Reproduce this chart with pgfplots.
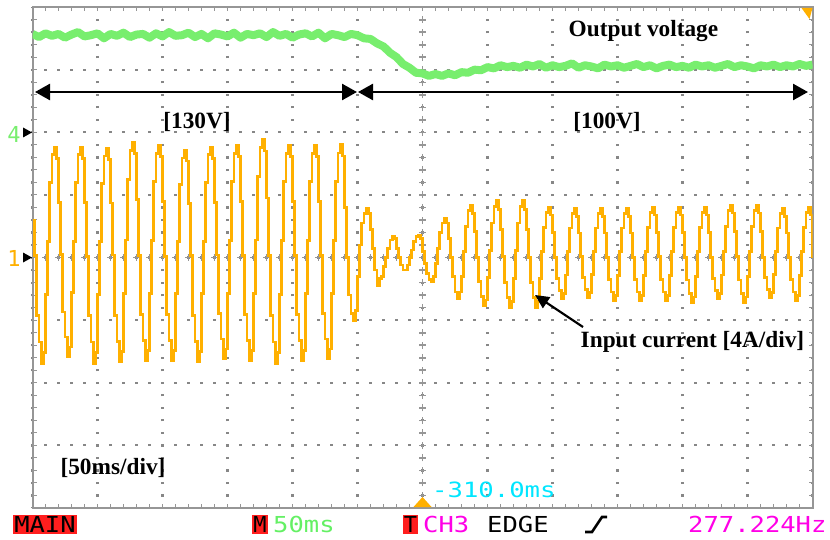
\documentclass[border=0pt]{standalone}
\usepackage{pgfplots}
\pgfplotsset{compat=1.18}
\usepackage{graphicx}
\usepackage{fontspec}
\setmainfont{Liberation Serif}
\newfontfamily\scope{DejaVu Sans Mono}
\usetikzlibrary{arrows.meta}
\definecolor{gridgray}{RGB}{150,150,150}
\definecolor{dotgray}{RGB}{135,135,135}
\definecolor{trgreen}{RGB}{120,238,110}
\definecolor{trorange}{RGB}{255,176,0}
\definecolor{scopered}{RGB}{255,30,30}
\definecolor{scopemag}{RGB}{255,0,230}
\definecolor{scopecyan}{RGB}{0,230,255}
\definecolor{scopegreen}{RGB}{100,240,100}
\newcommand{\st}[2][1.16]{\scalebox{#1}[1]{\fontsize{22}{22}\selectfont\scope #2}}
\newcommand{\ann}{\fontsize{23.3}{26}\selectfont\bfseries}
\begin{document}
\begin{tikzpicture}[x=1pt,y=1pt]
\path[use as bounding box] (-32.5,-31) rectangle (797.5,508);
\begin{axis}[
 at={(0,0)}, anchor=south west,
 scale only axis, width=780pt, height=501pt,
 xmin=0, xmax=360, ymin=-4, ymax=4,
 xtick={0,30,...,360}, ytick={-4,-3,...,4},
 minor x tick num=4, minor y tick num=4,
 xticklabels={}, yticklabels={},
 tick align=inside, tick pos=both,
 major tick length=4pt, minor tick length=4pt,
 tick style={draw=gridgray, line width=1pt},
 grid=major,
 x grid style={draw=dotgray, line width=2.2pt, dash pattern=on 2.2pt off 10.32pt, dash phase=1.1pt},
 y grid style={draw=dotgray, line width=2.2pt, dash pattern=on 2.2pt off 10.8pt, dash phase=1.1pt},
 axis line style={draw=gridgray, line width=2pt},
]
% centre crosses
\draw[gridgray, line width=1.6pt, dash pattern=on 7pt off 6pt, dash phase=3.5pt] (axis cs:0,0) -- (axis cs:360,0);
\draw[gridgray, line width=7pt, dash pattern=on 1.6pt off 11.4pt, dash phase=0.8pt] (axis cs:0,0) -- (axis cs:360,0);
\draw[gridgray, line width=1.6pt, dash pattern=on 7pt off 5.52pt, dash phase=3.5pt] (axis cs:180,-4) -- (axis cs:180,4);
\draw[gridgray, line width=7pt, dash pattern=on 1.6pt off 10.92pt, dash phase=0.8pt] (axis cs:180,-4) -- (axis cs:180,4);
% output voltage
\addplot[trgreen, line width=8pt, line join=round] coordinates {
(0,3.57)(3,3.52)(6,3.58)(9,3.54)(12,3.57)(15,3.51)(18,3.56)(21,3.6)(24,3.53)(27,3.55)(30,3.58)(33,3.5)(36,3.57)(39,3.54)(42,3.59)(45,3.52)(48,3.56)(51,3.57)(54,3.51)(57,3.58)(60,3.53)(63,3.6)(66,3.54)(69,3.55)(72,3.59)(75,3.52)(78,3.57)(81,3.5)(84,3.58)(87,3.56)(90,3.53)(93,3.59)(96,3.51)(99,3.57)(102,3.55)(105,3.58)(108,3.52)(111,3.6)(114,3.54)(117,3.57)(120,3.51)(123,3.56)(126,3.58)(129,3.53)(132,3.59)(135,3.5)(138,3.57)(141,3.55)(144,3.52)(147,3.57)(150,3.55)
(153,3.5)(156,3.49)(159,3.42)(162,3.37)(165,3.27)(168,3.2)(171,3.09)(174,3.03)(177,2.95)(180,2.94)(183,2.9)(186,2.93)(189,2.9)(192,2.94)(195,2.91)(198,2.96)(201,2.95)(204,3.0)(207,2.99)(210,3.04)(213,3.02)(216,3.07)(219,3.04)(222,3.06)
(225,3.03)(228,3.08)(231,3.05)(234,3.09)(237,3.03)(240,3.07)(243,3.04)(246,3.06)(249,3.1)(252,3.03)(255,3.07)(258,3.05)(261,3.02)(264,3.08)(267,3.05)(270,3.07)(273,3.03)(276,3.06)(279,3.09)(282,3.04)(285,3.07)(288,3.02)(291,3.06)(294,3.08)(297,3.04)(300,3.06)(303,3.03)(306,3.08)(309,3.05)(312,3.07)(315,3.03)(318,3.06)(321,3.09)(324,3.04)(327,3.07)(330,3.05)(333,3.02)(336,3.07)(339,3.05)(342,3.08)(345,3.04)(348,3.07)(351,3.05)(354,3.09)(357,3.06)(360,3.08)
};
% input current
\addplot[trorange, line width=2.8pt, const plot] coordinates {
(0,0.6)(1,0.03)(2,-0.93)(3,-1.35)(4,-1.69)(5,-1.52)(6,-0.59)(7,0.26)(8,1.2)(9,1.64)(10,1.76)(11,1.58)
(12,0.88)(13,0.05)(14,-0.87)(15,-1.27)(16,-1.59)(17,-1.43)(18,-0.56)(19,0.26)(20,1.2)(21,1.64)(22,1.76)(23,1.58)
(24,0.88)(25,0.02)(26,-0.93)(27,-1.35)(28,-1.69)(29,-1.52)(30,-0.59)(31,0.26)(32,1.18)(33,1.62)(34,1.74)(35,1.57)
(36,0.87)(37,0.04)(38,-0.92)(39,-1.34)(40,-1.67)(41,-1.5)(42,-0.58)(43,0.28)(44,1.25)(45,1.71)(46,1.84)(47,1.66)
(48,0.92)(49,0.03)(50,-0.91)(51,-1.32)(52,-1.65)(53,-1.49)(54,-0.58)(55,0.27)(56,1.22)(57,1.66)(58,1.79)(59,1.61)
(60,0.9)(61,0.02)(62,-0.91)(63,-1.32)(64,-1.65)(65,-1.49)(66,-0.58)(67,0.26)(68,1.16)(69,1.59)(70,1.71)(71,1.54)
(72,0.86)(73,0.03)(74,-0.92)(75,-1.34)(76,-1.67)(77,-1.5)(78,-0.58)(79,0.26)(80,1.2)(81,1.64)(82,1.76)(83,1.58)
(84,0.88)(85,0.04)(86,-0.89)(87,-1.3)(88,-1.62)(89,-1.46)(90,-0.57)(91,0.27)(92,1.22)(93,1.66)(94,1.79)(95,1.61)
(96,0.9)(97,0.03)(98,-0.91)(99,-1.32)(100,-1.65)(101,-1.49)(102,-0.58)(103,0.28)(104,1.29)(105,1.76)(106,1.89)(107,1.7)
(108,0.95)(109,0.03)(110,-0.93)(111,-1.35)(112,-1.69)(113,-1.52)(114,-0.59)(115,0.27)(116,1.22)(117,1.66)(118,1.79)(119,1.61)
(120,0.9)(121,0.03)(122,-0.91)(123,-1.32)(124,-1.65)(125,-1.49)(126,-0.58)(127,0.27)(128,1.22)(129,1.66)(130,1.79)(131,1.61)
(132,0.9)(133,0.03)(134,-0.89)(135,-1.3)(136,-1.62)(137,-1.46)(138,-0.57)(139,0.27)(140,1.22)(141,1.67)(142,1.8)(143,1.62)
(144,0.8)(145,0.0)(146,-0.6)(147,-0.9)(148,-1.0)(149,-0.85)(150,-0.3)(151,0.2)(152,0.55)(153,0.7)(154,0.78)(155,0.7)
(156,0.45)(157,0.15)(158,-0.2)(159,-0.45)(160,-0.33)(161,-0.3)(162,-0.15)(163,0.0)(164,0.15)(165,0.28)(166,0.33)(167,0.3)
(168,0.15)(169,0.0)(170,-0.12)(171,-0.2)(172,-0.2)(173,-0.12)(174,0.0)(175,0.12)(176,0.25)(177,0.33)(178,0.36)(179,0.3)
(180,0.1)(181,-0.1)(182,-0.25)(183,-0.35)(184,-0.38)(185,-0.3)(186,-0.1)(187,0.15)(188,0.4)(189,0.55)(190,0.63)(191,0.55)
(192,0.3)(193,0.0)(194,-0.3)(195,-0.55)(196,-0.65)(197,-0.55)(198,-0.3)(199,0.1)(200,0.5)(201,0.75)(202,0.83)(203,0.7)
(204,0.42)(205,0.0)(206,-0.38)(207,-0.62)(208,-0.77)(209,-0.68)(210,-0.32)(211,0.11)(212,0.55)(213,0.82)(214,0.91)(215,0.77)
(216,0.45)(217,0.01)(218,-0.4)(219,-0.64)(220,-0.8)(221,-0.7)(222,-0.34)(223,0.11)(224,0.55)(225,0.82)(226,0.91)(227,0.77)
(228,0.45)(229,0.0)(230,-0.4)(231,-0.64)(232,-0.8)(233,-0.7)(234,-0.34)(235,0.1)(236,0.48)(237,0.72)(238,0.8)(239,0.68)
(240,0.4)(241,0.0)(242,-0.33)(243,-0.53)(244,-0.66)(245,-0.58)(246,-0.28)(247,0.09)(248,0.47)(249,0.7)(250,0.78)(251,0.66)
(252,0.39)(253,0.01)(254,-0.32)(255,-0.51)(256,-0.64)(257,-0.56)(258,-0.27)(259,0.09)(260,0.47)(261,0.7)(262,0.78)(263,0.66)
(264,0.39)(265,0.0)(266,-0.35)(267,-0.55)(268,-0.69)(269,-0.61)(270,-0.29)(271,0.09)(272,0.47)(273,0.7)(274,0.78)(275,0.66)
(276,0.39)(277,0.0)(278,-0.35)(279,-0.55)(280,-0.69)(281,-0.61)(282,-0.29)(283,0.1)(284,0.48)(285,0.72)(286,0.8)(287,0.68)
(288,0.4)(289,0.01)(290,-0.35)(291,-0.55)(292,-0.69)(293,-0.61)(294,-0.29)(295,0.1)(296,0.48)(297,0.72)(298,0.8)(299,0.68)
(300,0.4)(301,0.0)(302,-0.36)(303,-0.58)(304,-0.72)(305,-0.63)(306,-0.3)(307,0.1)(308,0.48)(309,0.72)(310,0.8)(311,0.68)
(312,0.4)(313,0.0)(314,-0.33)(315,-0.53)(316,-0.66)(317,-0.58)(318,-0.28)(319,0.1)(320,0.5)(321,0.75)(322,0.83)(323,0.71)
(324,0.42)(325,0.01)(326,-0.36)(327,-0.58)(328,-0.72)(329,-0.63)(330,-0.3)(331,0.1)(332,0.5)(333,0.75)(334,0.83)(335,0.71)
(336,0.42)(337,0.0)(338,-0.32)(339,-0.51)(340,-0.64)(341,-0.56)(342,-0.27)(343,0.09)(344,0.47)(345,0.7)(346,0.78)(347,0.66)
(348,0.39)(349,0.0)(350,-0.35)(351,-0.55)(352,-0.69)(353,-0.61)(354,-0.29)(355,0.1)(356,0.48)(357,0.72)(358,0.8)(359,0.68)(360,0.0)
};
\end{axis}
% annotations
\draw[line width=2.5pt, {Triangle[length=15pt,width=16pt]}-{Triangle[length=15pt,width=16pt]}] (2.5,416) -- (324.5,416);
\draw[line width=2.5pt, {Triangle[length=15pt,width=16pt]}-{Triangle[length=15pt,width=16pt]}] (325.5,416) -- (775.5,416);
\node[anchor=base, inner sep=0] at (611,471) {\ann Output voltage};
\node[anchor=base, inner sep=0] at (164.5,379) {\ann [130V]};
\node[anchor=base, inner sep=0] at (574.5,379) {\ann [100V]};
\node[anchor=base, inner sep=0] at (660,161) {\ann Input current [4A/div]};
\node[anchor=base, inner sep=0] at (80.5,34) {\ann [50ms/div]};
\draw[line width=2.2pt, -{Triangle[length=14pt,width=13pt]}] (550.5,181) -- (502.5,213);
% channel markers
\node[anchor=center, inner sep=0, text=trgreen] at (-18.5,374) {\st[1]{4}};
\fill[black] (-9.5,380.5) -- (-9.5,370.5) -- (-0.5,375.5) -- cycle;
\node[anchor=center, inner sep=0, text=trorange] at (-18.5,249.5) {\st[1]{1}};
\fill[black] (-9.5,255.5) -- (-9.5,245.5) -- (-0.5,250.5) -- cycle;
% trigger markers
\fill[trorange] (381,1) -- (399,1) -- (390,11) -- cycle;
\fill[trorange] (769,500) -- (780,500) -- (777,489) -- cycle;
\node[anchor=base west, inner sep=0, text=scopecyan] at (399.5,11) {\scalebox{1.22}[1]{\fontsize{21}{21}\selectfont\scope -310.0ms}};
% status bar
\fill[scopered] (-19.5,-7) rectangle (44.5,-25.5);
\node[anchor=base, inner sep=0] at (12.5,-24.5) {\st{MAIN}};
\fill[scopered] (219.5,-7) rectangle (235.5,-25.5);
\node[anchor=base, inner sep=0] at (227.5,-24.5) {\st[1]{M}};
\node[anchor=base west, inner sep=0, text=scopegreen] at (240.5,-24.5) {\st{50ms}};
\fill[scopered] (370.5,-7) rectangle (385.5,-25.5);
\node[anchor=base, inner sep=0] at (378,-24.5) {\st[1]{T}};
\node[anchor=base west, inner sep=0, text=scopemag] at (390.5,-24.5) {\st{CH3}};
\node[anchor=base west, inner sep=0] at (454.5,-24.5) {\st{EDGE}};
\draw[line width=2.6pt] (552.5,-24) -- (559.5,-24) -- (569.5,-9) -- (574.5,-9);
\node[anchor=base west, inner sep=0, text=scopemag] at (655.5,-24.5) {\st{277.224Hz}};
\end{tikzpicture}
\end{document}
